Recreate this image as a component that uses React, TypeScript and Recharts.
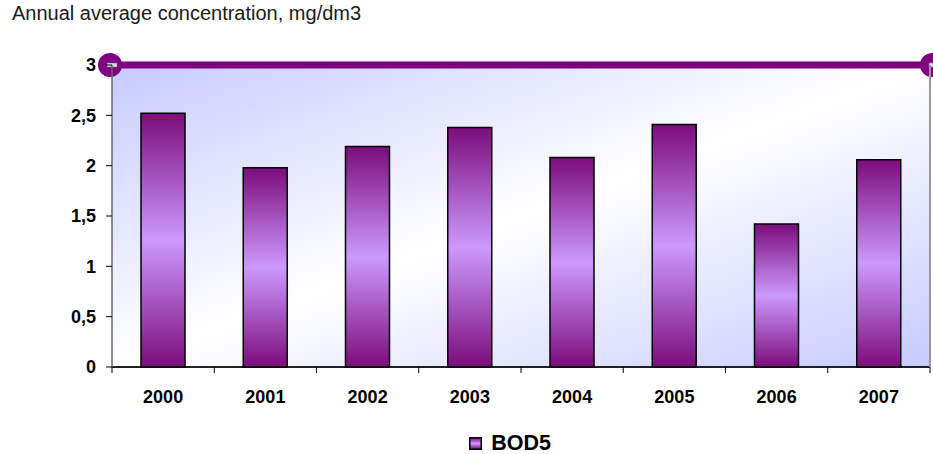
import React from "react";
import {
  Bar,
  BarChart,
  CartesianGrid,
  Legend,
  ReferenceLine,
  XAxis,
  YAxis,
} from "recharts";

const years = ["2000", "2001", "2002", "2003", "2004", "2005", "2006", "2007"];
const bod5 = [2.52, 1.98, 2.19, 2.38, 2.08, 2.41, 1.42, 2.06];
const limit = 3;
const yTicks = [0, 0.5, 1, 1.5, 2, 2.5, 3];

const data = years.map((year, i) => ({ year, bod5: bod5[i] }));

const FONT = "'Liberation Sans', Arial, sans-serif";

const fmt = (v: number) => String(v).replace(".", ",");

function XTick(props: any) {
  const { x, y, payload, index } = props;
  const half = payload.offset || 0;
  const axisY = y - 23;
  return (
    <g>
      <line x1={x - half} y1={axisY} x2={x - half} y2={axisY + 6} stroke="#000" />
      {index === years.length - 1 && (
        <line x1={x + half} y1={axisY} x2={x + half} y2={axisY + 6} stroke="#000" />
      )}
      <text
        x={x}
        y={y}
        dy="0.71em"
        textAnchor="middle"
        fontFamily={FONT}
        fontWeight="bold"
        fontSize={18}
        fill="#000"
      >
        {payload.value}
      </text>
    </g>
  );
}

function LimitLine(props: any) {
  const { x1, y1, x2, y2 } = props;
  const end = (cx: number, cy: number) => (
    <g>
      <circle cx={cx} cy={cy} r={12} fill="#800080" />
      <rect x={cx - 3} y={cy - 2} width={10} height={4} fill="#ddd6ee" stroke="#777" strokeWidth={0.5} />
    </g>
  );
  return (
    <g>
      <line x1={x1} y1={y1} x2={x2} y2={y2} stroke="#800080" strokeWidth={7} />
      {end(x1 - 2, y1)}
      {end(x2 + 2, y2)}
    </g>
  );
}

function LegendBox() {
  return (
    <div
      style={{
        height: 22,
        display: "flex",
        alignItems: "center",
        justifyContent: "center",
        paddingLeft: 87,
        fontFamily: FONT,
        fontWeight: "bold",
        fontSize: 21.5,
        color: "#000",
      }}
    >
      <svg width={13} height={13} style={{ marginRight: 9 }}>
        <defs>
          <linearGradient id="legGrad" x1="0" y1="0" x2="0" y2="1">
            <stop offset="0%" stopColor="#800080" />
            <stop offset="50%" stopColor="#cc99ff" />
            <stop offset="100%" stopColor="#800080" />
          </linearGradient>
        </defs>
        <rect x={0.75} y={0.75} width={11.5} height={11.5} fill="url(#legGrad)" stroke="#000" strokeWidth={1.5} />
      </svg>
      BOD5
    </div>
  );
}

export default function App() {
  return (
    <div style={{ position: "absolute", left: 0, top: 0, width: 933, height: 454, background: "#fff" }}>
      <div
        style={{
          position: "absolute",
          left: 12,
          top: 2,
          fontFamily: FONT,
          fontSize: 20,
          color: "#1a1a1a",
          whiteSpace: "nowrap",
        }}
      >
        Annual average concentration, mg/dm3
      </div>
      <BarChart
        width={933}
        height={454}
        data={data}
        margin={{ top: 65, right: 0, left: 0, bottom: 0 }}
        barSize={44}
      >
        <defs>
          <linearGradient id="barGrad" x1="0" y1="0" x2="0" y2="1">
            <stop offset="0%" stopColor="#7c0c7c" />
            <stop offset="50%" stopColor="#cc99ff" />
            <stop offset="100%" stopColor="#7c0c7c" />
          </linearGradient>
          <linearGradient id="bgGrad" x1="0" y1="0" x2="1" y2="1">
            <stop offset="0%" stopColor="#c6caff" />
            <stop offset="50%" stopColor="#ffffff" />
            <stop offset="100%" stopColor="#c6caff" />
          </linearGradient>
        </defs>
        <CartesianGrid
          vertical={false}
          stroke="#111"
          strokeWidth={1.2}
          fill="url(#bgGrad)"
          fillOpacity={1}
        />
        <XAxis
          dataKey="year"
          height={65}
          axisLine={{ stroke: "#000", strokeWidth: 1.5 }}
          tickLine={false}
          tickSize={6}
          tickMargin={17}
          tick={<XTick />}
          interval={0}
        />
        <YAxis
          yAxisId="left"
          width={112}
          domain={[0, 3]}
          ticks={yTicks}
          tickFormatter={fmt}
          axisLine={{ stroke: "#666", strokeWidth: 1.5 }}
          tickLine={{ stroke: "#000" }}
          tickSize={6}
          tickMargin={10}
          tick={{ fontFamily: FONT, fontWeight: "bold", fontSize: 18, fill: "#000" }}
        />
        <YAxis
          yAxisId="right"
          orientation="right"
          width={3}
          domain={[0, 3]}
          tick={false}
          tickLine={false}
          axisLine={{ stroke: "#999", strokeWidth: 2 }}
        />
        <Bar
          yAxisId="left"
          dataKey="bod5"
          name="BOD5"
          fill="url(#barGrad)"
          stroke="#000"
          strokeWidth={1.5}
          isAnimationActive={false}
        />
        <ReferenceLine yAxisId="left" y={limit} shape={<LimitLine />} />
        <Legend verticalAlign="bottom" content={<LegendBox />} />
      </BarChart>
    </div>
  );
}
